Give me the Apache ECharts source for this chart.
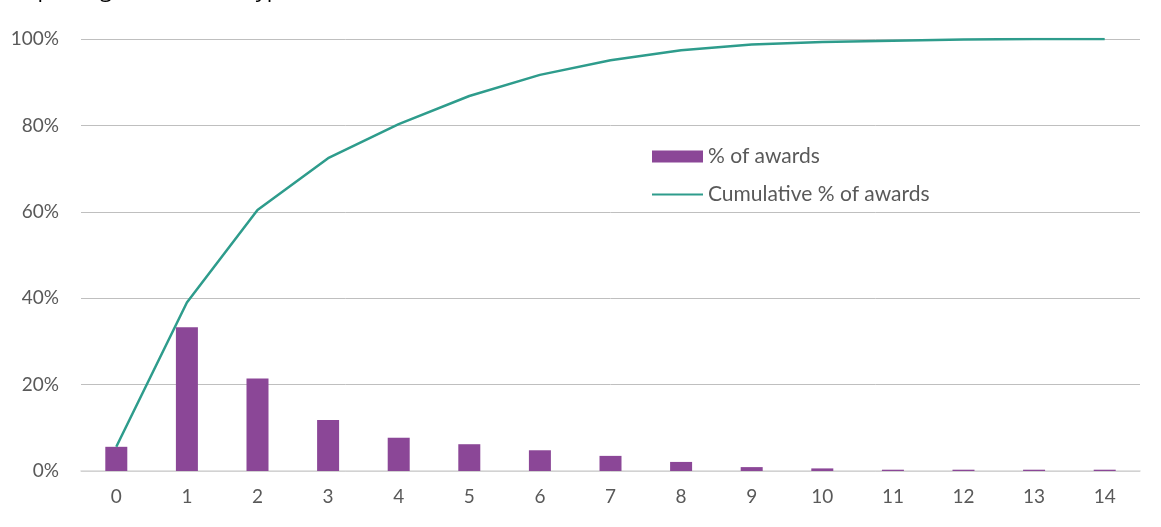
<!DOCTYPE html>
<html>
<head>
<meta charset="utf-8">
<script src="https://cdn.jsdelivr.net/npm/echarts@6/dist/echarts.min.js"></script>
<style>
  html, body { margin: 0; padding: 0; background: #fff; }
  #chart { width: 1161px; height: 527px; }
</style>
</head>
<body>
<div id="chart"></div>
<script>
// number of award types reported
var categories = ["0", "1", "2", "3", "4", "5", "6", "7", "8", "9", "10", "11", "12", "13", "14"];
// % of awards
var pctAwards = [5.6, 33.3, 21.4, 11.8, 7.7, 6.2, 4.8, 3.5, 2.1, 0.9, 0.6, 0.3, 0.3, 0.3, 0.3];
// cumulative % of awards
var cumPctAwards = [5.6, 39.0, 60.4, 72.4, 80.3, 86.8, 91.7, 95.1, 97.4, 98.7, 99.3, 99.6, 99.9, 100, 100];

var labelColor = "#595959";
var fontFamily = "Lato, 'Open Sans', sans-serif";

var myChart = echarts.init(document.getElementById("chart"));
var option = {
  animation: false,
  graphic: [
    {
      // caption line above, cut off at the top of the picture
      type: "text",
      left: -2,
      top: -20,
      style: {
        text: "e reporting more award types.",
        fontSize: 22,
        fontFamily: "'Open Sans', sans-serif",
        fill: "#000"
      }
    }
  ],
  grid: {
    left: 81,
    right: 21,
    top: 39,
    bottom: 56
  },
  legend: {
    orient: "vertical",
    left: 646,
    top: 141,
    itemGap: 17,
    itemWidth: 51,
    itemHeight: 12,
    textStyle: {
      color: labelColor,
      fontSize: 21,
      fontFamily: fontFamily
    },
    data: [
      { name: "% of awards", icon: "rect" },
      { name: "Cumulative % of awards", itemStyle: { opacity: 0 } }
    ]
  },
  xAxis: {
    type: "category",
    data: categories,
    axisTick: { show: false },
    axisLine: {
      show: true,
      lineStyle: { color: "#d9d9d9", width: 1.5 }
    },
    axisLabel: {
      color: labelColor,
      fontSize: 19,
      fontFamily: fontFamily,
      margin: 16
    }
  },
  yAxis: {
    type: "value",
    min: 0,
    max: 100,
    interval: 20,
    axisLine: { show: false },
    axisTick: { show: false },
    splitLine: {
      lineStyle: { color: "#bfbfbf", width: 1 }
    },
    axisLabel: {
      color: labelColor,
      fontSize: 19,
      fontFamily: fontFamily,
      margin: 22,
      formatter: "{value}%"
    }
  },
  series: [
    {
      name: "% of awards",
      type: "bar",
      barWidth: 22,
      itemStyle: { color: "#8b4797" },
      data: pctAwards
    },
    {
      name: "Cumulative % of awards",
      type: "line",
      symbol: "none",
      lineStyle: { color: "#2e9c8c", width: 2.5 },
      itemStyle: { color: "#2e9c8c" },
      data: cumPctAwards
    }
  ]
};
myChart.setOption(option);
</script>
</body>
</html>
